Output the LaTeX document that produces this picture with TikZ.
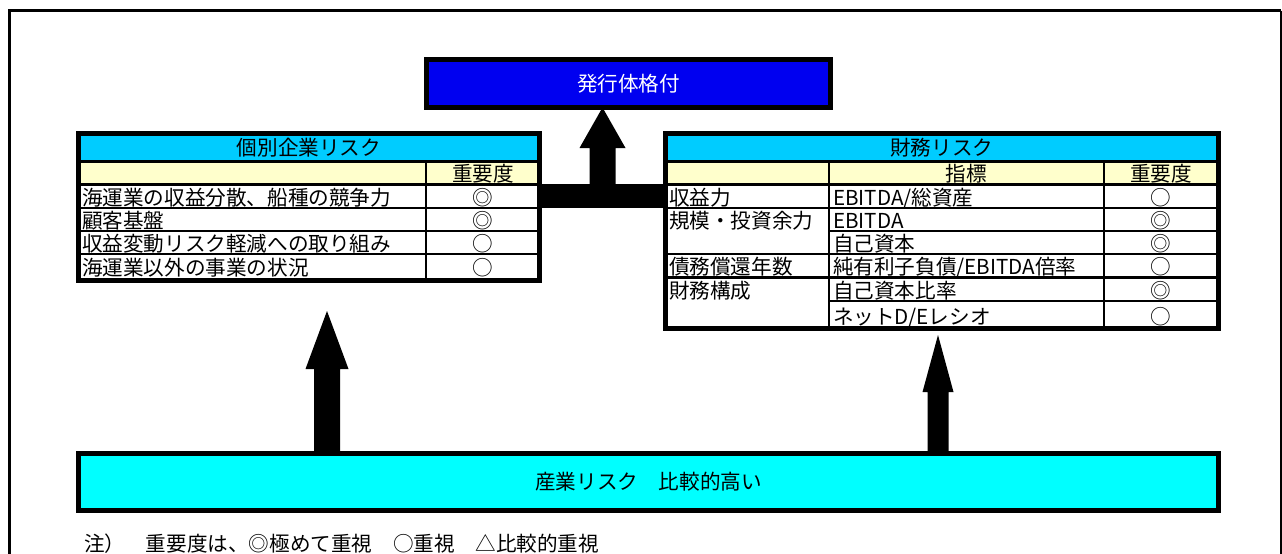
\documentclass[tikz,border=0pt]{standalone}
\usepackage{fontspec}
\setmainfont{Noto Sans CJK JP}
\usetikzlibrary{calc}
\definecolor{hdrcyan}{RGB}{0,204,255}
\definecolor{hdryel}{RGB}{255,255,204}
\definecolor{boxcyan}{RGB}{0,255,255}
\definecolor{boxblue}{RGB}{0,0,240}
\newcommand\fatarrow[5]{%
  \fill let \p1=(#1), \p2=(#2) in
    (\x1-#3pt,\y1) -- (\x1-#3pt,\y2-#5pt) -- (\x1-#4pt,\y2-#5pt) -- (\x1,\y2)
    -- (\x1+#4pt,\y2-#5pt) -- (\x1+#3pt,\y2-#5pt) -- (\x1+#3pt,\y1) -- cycle;}
\begin{document}
\begin{tikzpicture}[x=1pt,y=-1pt,
  txt/.style={inner sep=0, outer sep=0, font=\fontsize{20.6}{22}\selectfont},
  cell/.style={txt, anchor=base west},
  mid/.style={txt, anchor=base},
  frame/.style={draw, line width=5, inner sep=0, outer sep=0},
  rule/.style={line width=2.6}]
\useasboundingbox (0,0) rectangle (1282,554);
\fill[white] (0,0) rectangle (1282,554);
% outer frame
\draw[line width=3.5] (9.5,554) -- (9.5,10.5) -- (1281,10.5);
\draw[line width=1.5] (1281,10.5) -- (1281,554);

% ---------- left table: 個別企業リスク ----------
\fill[hdrcyan] (78.5,133.5) rectangle (539.5,161.3);
\fill[hdryel] (78.5,161.3) rectangle (539.5,184.2);
\foreach \yy in {161.3,184.2,208,231,254}
  \draw[rule] (78.5,\yy) -- (539.5,\yy);
\draw[rule] (426,161.3) -- (426,280);
\node[frame, minimum width=461, minimum height=146.5, anchor=north west] (firm) at (78.5,133.5) {};
\node[txt] (firmtitle) at (309,147.5) {個別企業リスク};
\node[mid] (firmimp) at (483,181) {重要度};
\node[cell] (f1) at (82,205) {海運業の収益分散、船種の競争力};
\node[cell] (f2) at (82,228) {顧客基盤};
\node[cell] (f3) at (82,251) {収益変動リスク軽減への取り組み};
\node[cell] (f4) at (82,275) {海運業以外の事業の状況};
\node[mid] (f1v) at (483,205) {◎};
\node[mid] (f2v) at (483,228) {◎};
\node[mid] (f3v) at (483,251) {○};
\node[mid] (f4v) at (483,275) {○};

% ---------- right table: 財務リスク ----------
\fill[hdrcyan] (665.5,133.5) rectangle (1218,161.3);
\fill[hdryel] (665.5,161.3) rectangle (1218,184.2);
\foreach \yy in {161.3,184.2,208,254,277.5}
  \draw[rule] (665.5,\yy) -- (1218,\yy);
\foreach \yy in {231,301}
  \draw[rule] (829,\yy) -- (1218,\yy);
\draw[rule] (829,161.3) -- (829,328);
\draw[rule] (1104,161.3) -- (1104,328);
\node[frame, minimum width=552.5, minimum height=194.5, anchor=north west] (fin) at (665.5,133.5) {};
\node[txt] (fintitle) at (941.75,147.5) {財務リスク};
\node[mid] (finind) at (966.5,181) {指標};
\node[mid] (finimp) at (1161,181) {重要度};
\node[cell] (r1) at (669,205) {収益力};
\node[cell] (r2) at (669,228) {規模・投資余力};
\node[cell] (r4) at (669,274.5) {債務償還年数};
\node[cell] (r5) at (669,298) {財務構成};
\node[cell] (i1) at (833,205) {EBITDA/総資産};
\node[cell] (i2) at (833,228) {EBITDA};
\node[cell] (i3) at (833,251) {自己資本};
\node[cell] (i4) at (833,274.5) {純有利子負債/EBITDA倍率};
\node[cell] (i5) at (833,298) {自己資本比率};
\node[cell] (i6) at (833,324) {ネットD/Eレシオ};
\node[mid] (v1) at (1161,205) {○};
\node[mid] (v2) at (1161,228) {◎};
\node[mid] (v3) at (1161,251) {◎};
\node[mid] (v4) at (1161,274.5) {○};
\node[mid] (v5) at (1161,298) {◎};
\node[mid] (v6) at (1161,324) {○};

% ---------- connecting bar and arrows ----------
\node[fill=black, minimum width=126, minimum height=24, inner sep=0, outer sep=0] (bar) at (602.5,196) {};
\coordinate (lx) at (327,0);
\coordinate (rx) at (938,0);
\coordinate (ltip) at (327,311);
\coordinate (rtip) at (938,335);
\node[frame, fill=boxcyan, minimum width=1140, minimum height=57] (industry) at (648.5,482) {};
\node[frame, fill=boxblue, minimum width=404, minimum height=48] (rating) at (628.5,83.5) {};
\fatarrow{bar.north}{rating.south}{13}{23}{40.5}
\fatarrow{industry.north -| lx}{ltip}{13}{21.5}{58}
\fatarrow{industry.north -| rx}{rtip}{10.5}{15.5}{57}
\node[frame, fill=boxcyan, minimum width=1140, minimum height=57] (industry2) at (648.5,482) {};
\node[frame, fill=boxblue, minimum width=404, minimum height=48] (rating2) at (628.5,83.5) {};
\node[txt, text=white] (ratingtext) at (rating2) {発行体格付};
\node[txt] (industrytext) at (industry2) {産業リスク　比較的高い};

% ---------- note ----------
\node[cell] (note) at (84,551) {注）　重要度は、◎極めて重視　○重視　△比較的重視};
\end{tikzpicture}
\end{document}
